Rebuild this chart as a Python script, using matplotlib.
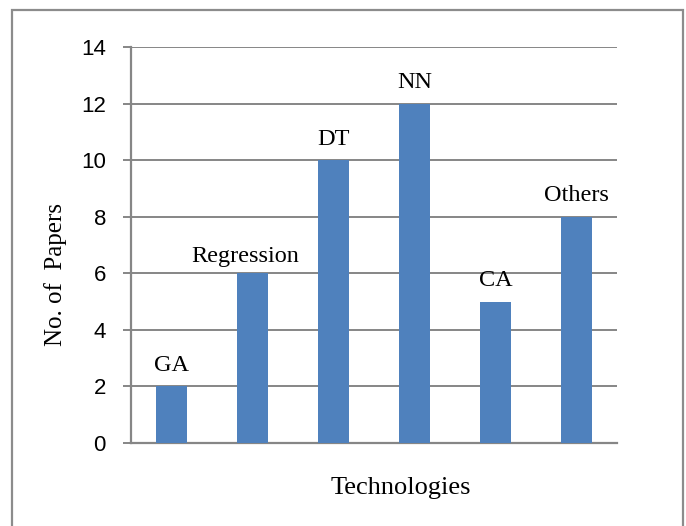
import matplotlib.pyplot as plt
from matplotlib.patches import Rectangle

# Papers per technology
technologies = ["GA", "Regression", "DT", "NN", "CA", "Others"]
papers = [2, 6, 10, 12, 5, 8]
yticks = [0, 2, 4, 6, 8, 10, 12, 14]

BAR = "#4F81BD"
GRID = "#868686"

fig = plt.figure(figsize=(6.86, 5.26), dpi=100)
ax = fig.add_axes([131 / 686, 83 / 526, 486 / 686, 396 / 526])

x = range(len(technologies))
ax.bar(x, papers, width=0.39, color=BAR, zorder=3)

for i, (name, v) in enumerate(zip(technologies, papers)):
    # the long label sits a bit lower and to the left
    dx, dy = (-5, 12) if name == "Regression" else (0, 15)
    ax.annotate(name, (i, v), xytext=(dx, dy), textcoords="offset points",
                ha="center", va="center", fontsize=17.5,
                family="Liberation Serif")

ax.set_xlim(-0.5, len(technologies) - 0.5)
ax.set_ylim(0, 14)
ax.set_yticks(yticks)
ax.set_xticks([])
ax.yaxis.grid(True, color=GRID, linewidth=1.4, zorder=0)
ax.tick_params(axis="y", length=6, width=1.4, color=GRID, pad=12,
               labelsize=16)
for lbl in ax.get_yticklabels():
    lbl.set_family("Liberation Sans")

for side in ("top", "right"):
    ax.spines[side].set_visible(False)
for side in ("left", "bottom"):
    ax.spines[side].set_color(GRID)
    ax.spines[side].set_linewidth(1.6)

fig.text(401 / 686, 1 - 488 / 526, "Technologies", ha="center", va="center",
         fontsize=19, family="Liberation Serif")
fig.text(56 / 686, 1 - 275 / 526, "No. of  Papers", ha="center", va="center",
         rotation=90, fontsize=18, family="Liberation Serif")

# chart frame
fig.patches.append(Rectangle((12 / 686, -0.1), 671 / 686, 1.1 - 10 / 526,
                             transform=fig.transFigure, fill=False,
                             edgecolor="#8c8c8c", linewidth=1.6))

fig.savefig("out.png", dpi=100)
